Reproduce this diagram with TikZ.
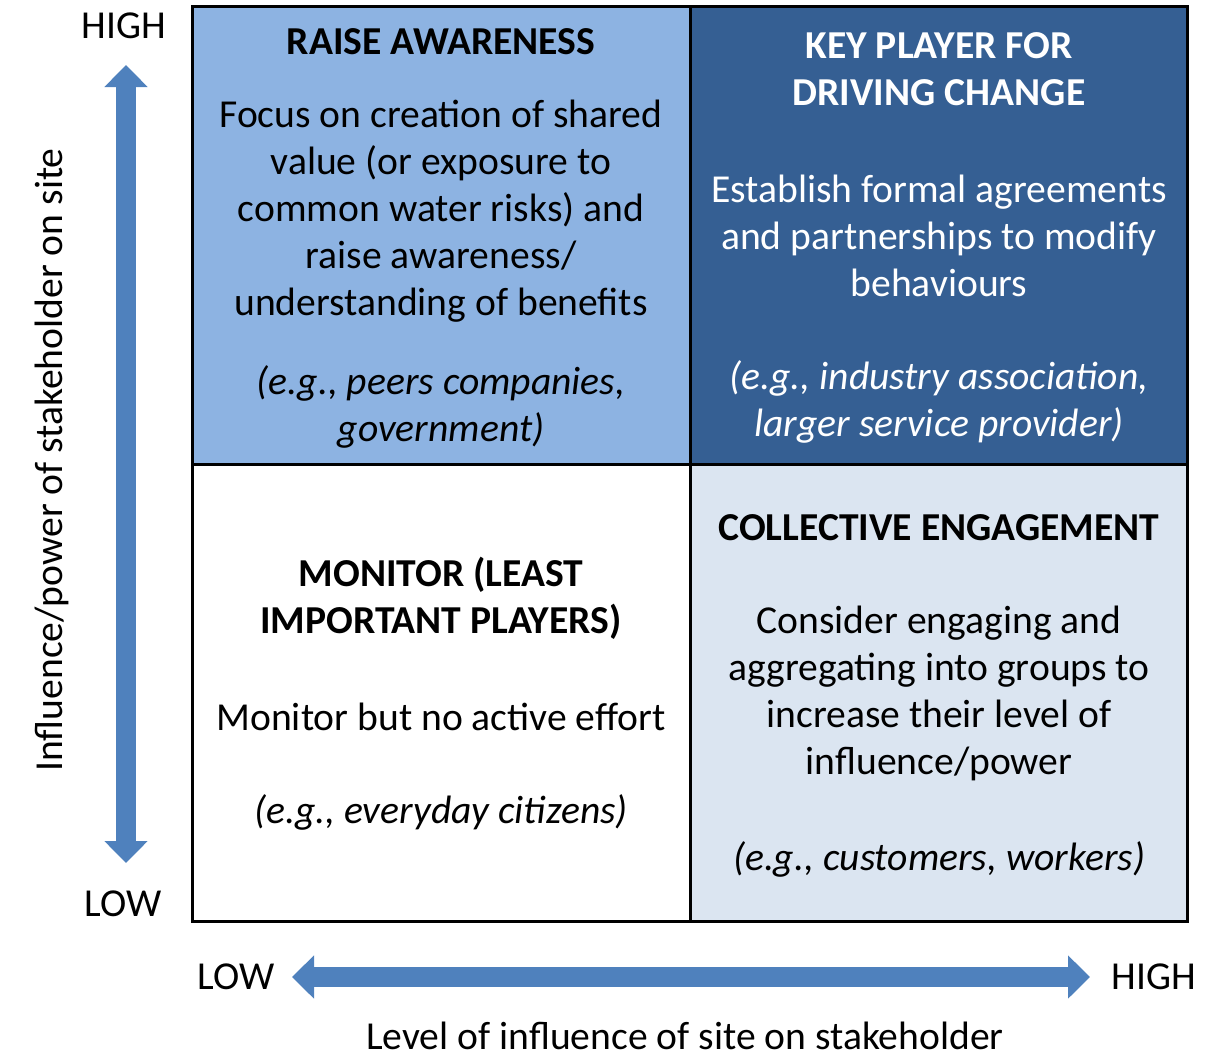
\documentclass[tikz,border=0pt]{standalone}
\usepackage{fontspec}
\setmainfont{Carlito}
\usepackage{tikz}
\usetikzlibrary{arrows.meta,positioning}
\definecolor{awareblue}{HTML}{8DB3E2}
\definecolor{keyblue}{HTML}{355F93}
\definecolor{collectblue}{HTML}{DBE5F1}
\definecolor{arrowblue}{HTML}{4F81BD}
\tikzstyle{quad} = [rectangle, draw=black, line width=1.5pt, minimum width=248.75pt, minimum height=228.75pt, inner sep=0pt]
\tikzstyle{heading} = [text centered, align=center, inner sep=0pt, font=\fontsize{19.8}{23.5}\selectfont\bfseries]
\tikzstyle{body} = [text centered, align=center, inner sep=0pt, font=\fontsize{19.8}{23.5}\selectfont]
\tikzstyle{example} = [text centered, align=center, inner sep=0pt, font=\fontsize{19.8}{23.5}\selectfont\itshape]
\tikzstyle{axislabel} = [inner sep=0pt, font=\fontsize{19.8}{23.5}\selectfont]
\tikzstyle{axisarrow} = [draw=arrowblue, line width=10pt, {Triangle[width=21pt,length=11pt]}-{Triangle[width=21pt,length=11pt]}]

\begin{document}
\begin{tikzpicture}[x=0.5pt, y=-0.5pt]
			\useasboundingbox (0,0) rectangle (1219,1057);
			% quadrants
			\node [quad, fill=awareblue] (aware) at (441.5,235.5) {};
			\node [quad, fill=keyblue] (key) at (939,235.5) {};
			\node [quad, fill=white] (monitor) at (441.5,693) {};
			\node [quad, fill=collectblue] (collect) at (939,693) {};
			% top left
			\node [heading] (awaretitle) at (441,42) {RAISE AWARENESS};
			\node [body] (awarebody) at (441,211) {Focus on creation of shared\\value (or exposure to\\common water risks) and\\raise awareness/\\understanding of benefits};
			\node [example] (awareeg) at (441,406.5) {(e.g., peers companies,\\government)};
			% top right
			\node [heading, text=white] (keytitle) at (939,69.5) {KEY PLAYER FOR\\DRIVING CHANGE};
			\node [body, text=white] (keybody) at (939,235.5) {Establish formal agreements\\and partnerships to modify\\behaviours};
			\node [example, text=white] (keyeg) at (939,401.5) {(e.g., industry association,\\larger service provider)};
			% bottom left
			\node [heading] (monitortitle) at (441,598.5) {MONITOR (LEAST\\IMPORTANT PLAYERS)};
			\node [body] (monitorbody) at (441,717) {Monitor but no active effort};
			\node [example] (monitoreg) at (441,812) {(e.g., everyday citizens)};
			% bottom right
			\node [heading] (collecttitle) at (939,528) {COLLECTIVE ENGAGEMENT};
			\node [body] (collectbody) at (939,693) {Consider engaging and\\aggregating into groups to\\increase their level of\\influence/power};
			\node [example] (collecteg) at (939,859) {(e.g., customers, workers)};
			% axes
			\node [axislabel] (vhigh) at (124,26) {HIGH};
			\node [axislabel] (vlow) at (123,904) {LOW};
			\node [axislabel] (hlow) at (236,977) {LOW};
			\node [axislabel] (hhigh) at (1154,977) {HIGH};
			\node [axislabel, rotate=90] (vlabel) at (52,460) {Influence/power of stakeholder on site};
			\node [axislabel] (hlabel) at (685,1036) {Level of influence of site on stakeholder};
			\coordinate (vtop) at (126,65);
			\coordinate (vbot) at (126,863);
			\coordinate (hleft) at (292,977);
			\coordinate (hright) at (1090,977);
			\path [axisarrow] (vtop) -- (vbot);
			\path [axisarrow] (hleft) -- (hright);
		\end{tikzpicture}
\end{document}
